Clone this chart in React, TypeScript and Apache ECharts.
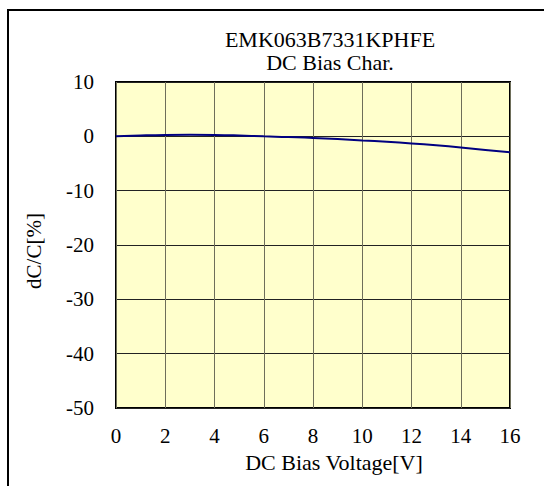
import React, { useEffect, useRef } from "react";
import * as echarts from "echarts";

const voltage = [0, 1, 2, 3, 4, 5, 6, 7, 8, 9, 10, 11, 12, 13, 14, 15, 16];
const dcPercent = [0, 0.15, 0.25, 0.28, 0.25, 0.15, 0.0, -0.12, -0.3, -0.5, -0.75, -1.0, -1.3, -1.65, -2.05, -2.5, -2.95];
const titleLines = ["EMK063B7331KPHFE", "DC Bias Char."];
const xName = "DC Bias Voltage[V]";
const yName = "dC/C[%]";

export default function App() {
  const ref = useRef<HTMLDivElement>(null);
  useEffect(() => {
    document.body.style.margin = "0";
    const chart = echarts.init(ref.current!, null, { renderer: "svg" });
    const font = "'Liberation Serif', 'Times New Roman', serif";
    const titleStyle = { fontFamily: font, fontSize: 22, fontWeight: "normal", color: "#000", lineHeight: 22 };
    chart.setOption({
      animation: false,
      backgroundColor: "#ffffff",
      title: [
        { text: titleLines[0], left: 330, top: 28, textAlign: "center", padding: 0, textStyle: titleStyle },
        { text: titleLines[1], left: 330, top: 51, textAlign: "center", padding: 0, textStyle: titleStyle },
      ],
      graphic: [
        {
          type: "rect",
          shape: { x: 8, y: 10, width: 700, height: 700 },
          style: { fill: "none", stroke: "#000", lineWidth: 2 },
          silent: true,
        },
      ],
      grid: { left: 116, top: 82, width: 394, height: 326, show: true, backgroundColor: "#FFFFCC", borderColor: "#000", borderWidth: 2 },
      xAxis: {
        type: "value",
        min: 0,
        max: 16,
        interval: 2,
        name: xName,
        nameLocation: "middle",
        nameGap: 43,
        nameTextStyle: { fontFamily: font, fontSize: 22, color: "#000", padding: [0, 0, 0, 42] },
        axisLine: { show: false },
        axisTick: { show: false },
        axisLabel: { fontFamily: font, fontSize: 21, color: "#000", margin: 17 },
        splitLine: { show: true, lineStyle: { color: "#6e6e5a", width: 1 } },
      },
      yAxis: {
        type: "value",
        min: -50,
        max: 10,
        interval: 10,
        name: yName,
        nameLocation: "middle",
        nameGap: 72,
        nameTextStyle: { fontFamily: font, fontSize: 21, color: "#000", padding: [0, 12, 0, 0] },
        axisLine: { show: false },
        axisTick: { show: false },
        axisLabel: { fontFamily: font, fontSize: 21, color: "#000", margin: 22 },
        splitLine: { show: true, lineStyle: { color: "#222", width: 1 } },
      },
      series: [
        {
          type: "line",
          data: voltage.map((v, i) => [v, dcPercent[i]]),
          smooth: true,
          showSymbol: false,
          lineStyle: { color: "#000080", width: 2 },
        },
      ],
    });
    return () => chart.dispose();
  }, []);
  return <div ref={ref} style={{ width: 544, height: 486 }} />;
}
